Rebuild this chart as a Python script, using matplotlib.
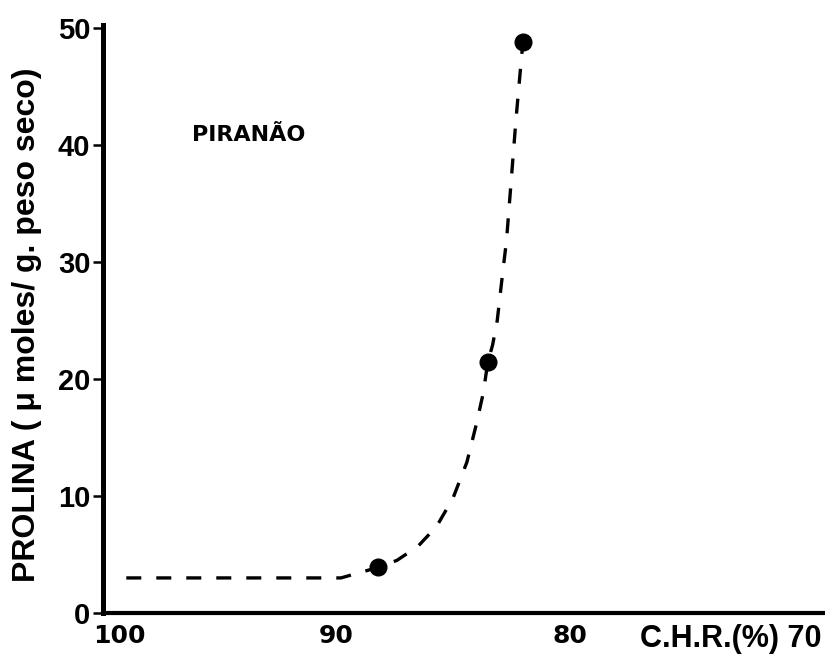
import matplotlib
matplotlib.use("Agg")
import matplotlib.pyplot as plt
import matplotlib.transforms as mtransforms
from matplotlib import font_manager

# measured points (C.H.R. %, proline)
chr_pts = [88.2, 83.5, 82.0]
prolina_pts = [3.9, 21.5, 48.8]

# dashed fitted curve
flat_x = [99.0, 89.8]
flat_y = [3.0, 3.0]
curve_x = [89.8, 88.2, 87.4, 86.5, 85.7, 85.0, 84.4, 84.0, 83.7, 83.5,
           83.3, 83.1, 82.9, 82.7, 82.5, 82.3, 82.1, 82.0]
curve_y = [3.0, 3.9, 4.5, 5.7, 7.4, 9.8, 12.9, 16.1, 18.8, 21.5,
           22.9, 25.0, 28.5, 31.9, 37.0, 42.1, 46.6, 48.8]

yticks = [0, 10, 20, 30, 40, 50]
xticks = [100, 90, 80]
xtick_labels = ["100", "90", "80"]

names = {f.name for f in font_manager.fontManager.ttflist}
narrow = "Liberation Sans Narrow" if "Liberation Sans Narrow" in names else "Liberation Sans"

plt.rcParams['font.family'] = ['Liberation Sans', 'DejaVu Sans']

fig = plt.figure(figsize=(8.25, 6.61), dpi=100)
ax = fig.add_axes([0.1248, 0.0726, 0.8752, 0.890])

ax.plot(flat_x + curve_x, flat_y + curve_y, color='black', linewidth=2.4,
        linestyle=(0, (4.5, 4.5)))
ax.plot(chr_pts, prolina_pts, 'o', color='black', markersize=12)

ax.set_xlim(100, 69.05)
ax.set_ylim(0, 50.3)

for side in ['top', 'right']:
    ax.spines[side].set_visible(False)
ax.spines['left'].set_linewidth(3.6)
ax.spines['bottom'].set_linewidth(3.0)

ax.set_yticks(yticks)
ax.set_yticklabels([str(v) for v in yticks], fontsize=21, fontweight='bold')
ax.tick_params(axis='y', direction='out', length=7, width=1.8, pad=2)

ax.set_xticks(xticks)
ax.set_xticklabels(xtick_labels, fontsize=18, fontweight='bold', family='DejaVu Sans')
ax.tick_params(axis='x', length=0, pad=8)
# the "100" sits a bit right of the corner, clear of the "0"
shift = mtransforms.ScaledTranslation(16 / 100, 0, fig.dpi_scale_trans)
first = ax.get_xticklabels()[0]
first.set_transform(first.get_transform() + shift)

ax.set_xlabel('C.H.R.(%) 70', fontsize=22, fontweight='bold', family=narrow,
              loc='right', labelpad=0)
ax.xaxis.set_label_coords(0.995, -0.045)
ax.xaxis.label.set_va('center')

ax.set_ylabel('PROLINA ( \u03bc moles/ g. peso seco)', fontsize=23, fontweight='bold')
ax.yaxis.set_label_coords(-0.085, 0.49)

ax.text(96.2, 40.9, 'PIRANÃO', fontsize=16, fontweight='bold', family='DejaVu Sans',
        ha='left', va='center')

fig.savefig('out.png', dpi=100)
